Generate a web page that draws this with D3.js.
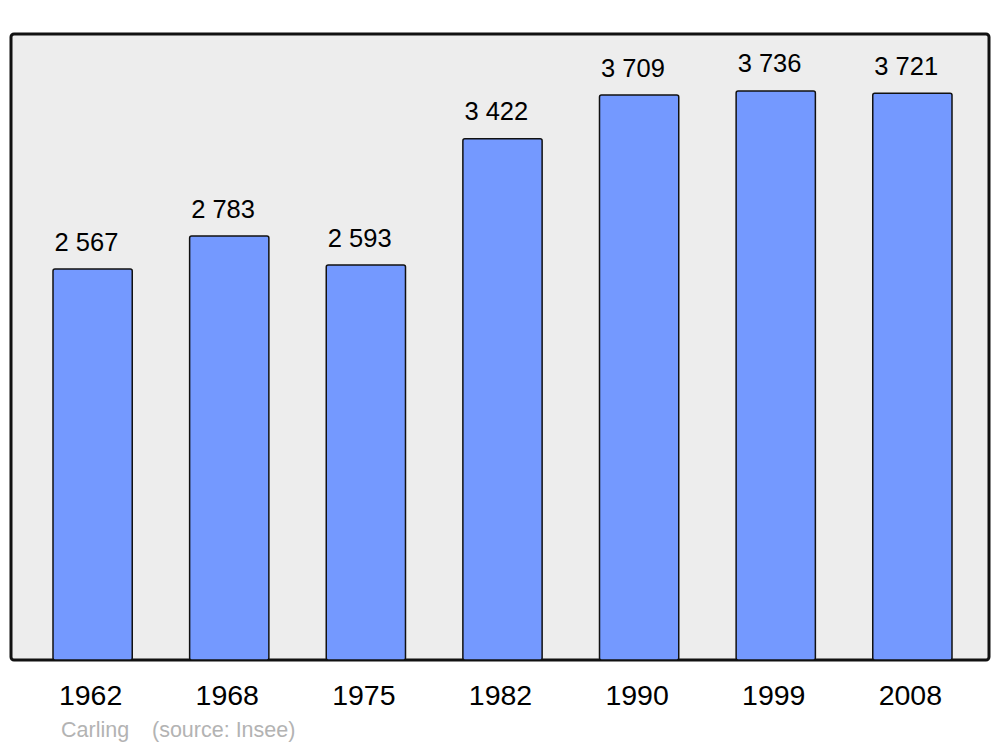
<!DOCTYPE html>
<html>
<head>
<meta charset="utf-8">
<script src="https://cdn.jsdelivr.net/npm/d3@7"></script>
<style>
  body { margin: 0; background: #fff; }
  text { font-family: "Liberation Sans", Arial, sans-serif; }
</style>
</head>
<body>
<script>
// data
const years = ["1962", "1968", "1975", "1982", "1990", "1999", "2008"];
const population = [2567, 2783, 2593, 3422, 3709, 3736, 3721];
const labels = ["2 567", "2 783", "2 593", "3 422", "3 709", "3 736", "3 721"];

const w = 1000, h = 747;
const frame = { left: 11, right: 989, top: 34, bottom: 660 };

const svg = d3.select("body").append("svg")
    .attr("width", w)
    .attr("height", h);

// background frame
svg.append("rect")
    .attr("x", frame.left)
    .attr("y", frame.top)
    .attr("width", frame.right - frame.left)
    .attr("height", frame.bottom - frame.top)
    .attr("rx", 3)
    .attr("fill", "#ededed")
    .attr("stroke", "#111")
    .attr("stroke-width", 3);

// scales
const x = d3.scaleBand()
    .domain(years)
    .range([53, 952])
    .paddingInner(0.42)
    .paddingOuter(0);

const y = d3.scaleLinear()
    .domain([0, 4110])
    .range([frame.bottom, frame.top]);

// bars
svg.selectAll(".bar")
    .data(population)
    .enter()
    .append("rect")
    .attr("class", "bar")
    .attr("x", (d, i) => x(years[i]))
    .attr("y", d => y(d))
    .attr("width", x.bandwidth())
    .attr("height", d => y(0) - y(d))
    .attr("rx", 2)
    .attr("fill", "#7499ff")
    .attr("stroke", "#111")
    .attr("stroke-width", 1.5);

// value labels
svg.selectAll(".val")
    .data(population)
    .enter()
    .append("text")
    .attr("class", "val")
    .attr("x", (d, i) => x(years[i]) + 1.5)
    .attr("y", d => y(d) - 18.5)
    .attr("font-size", "25.5px")
    .attr("fill", "#000")
    .text((d, i) => labels[i]);

// year labels
svg.selectAll(".year")
    .data(years)
    .enter()
    .append("text")
    .attr("class", "year")
    .attr("x", d => x(d) + x.bandwidth() / 2 - 2)
    .attr("y", 705)
    .attr("text-anchor", "middle")
    .attr("font-size", "28.5px")
    .attr("fill", "#000")
    .text(d => d);

// footer
svg.append("text")
    .attr("x", 61)
    .attr("y", 737)
    .attr("font-size", "21.5px")
    .attr("fill", "#b3b3b3")
    .text("Carling");

svg.append("text")
    .attr("x", 152)
    .attr("y", 737)
    .attr("font-size", "21.5px")
    .attr("fill", "#b3b3b3")
    .text("(source: Insee)");
</script>
</body>
</html>
